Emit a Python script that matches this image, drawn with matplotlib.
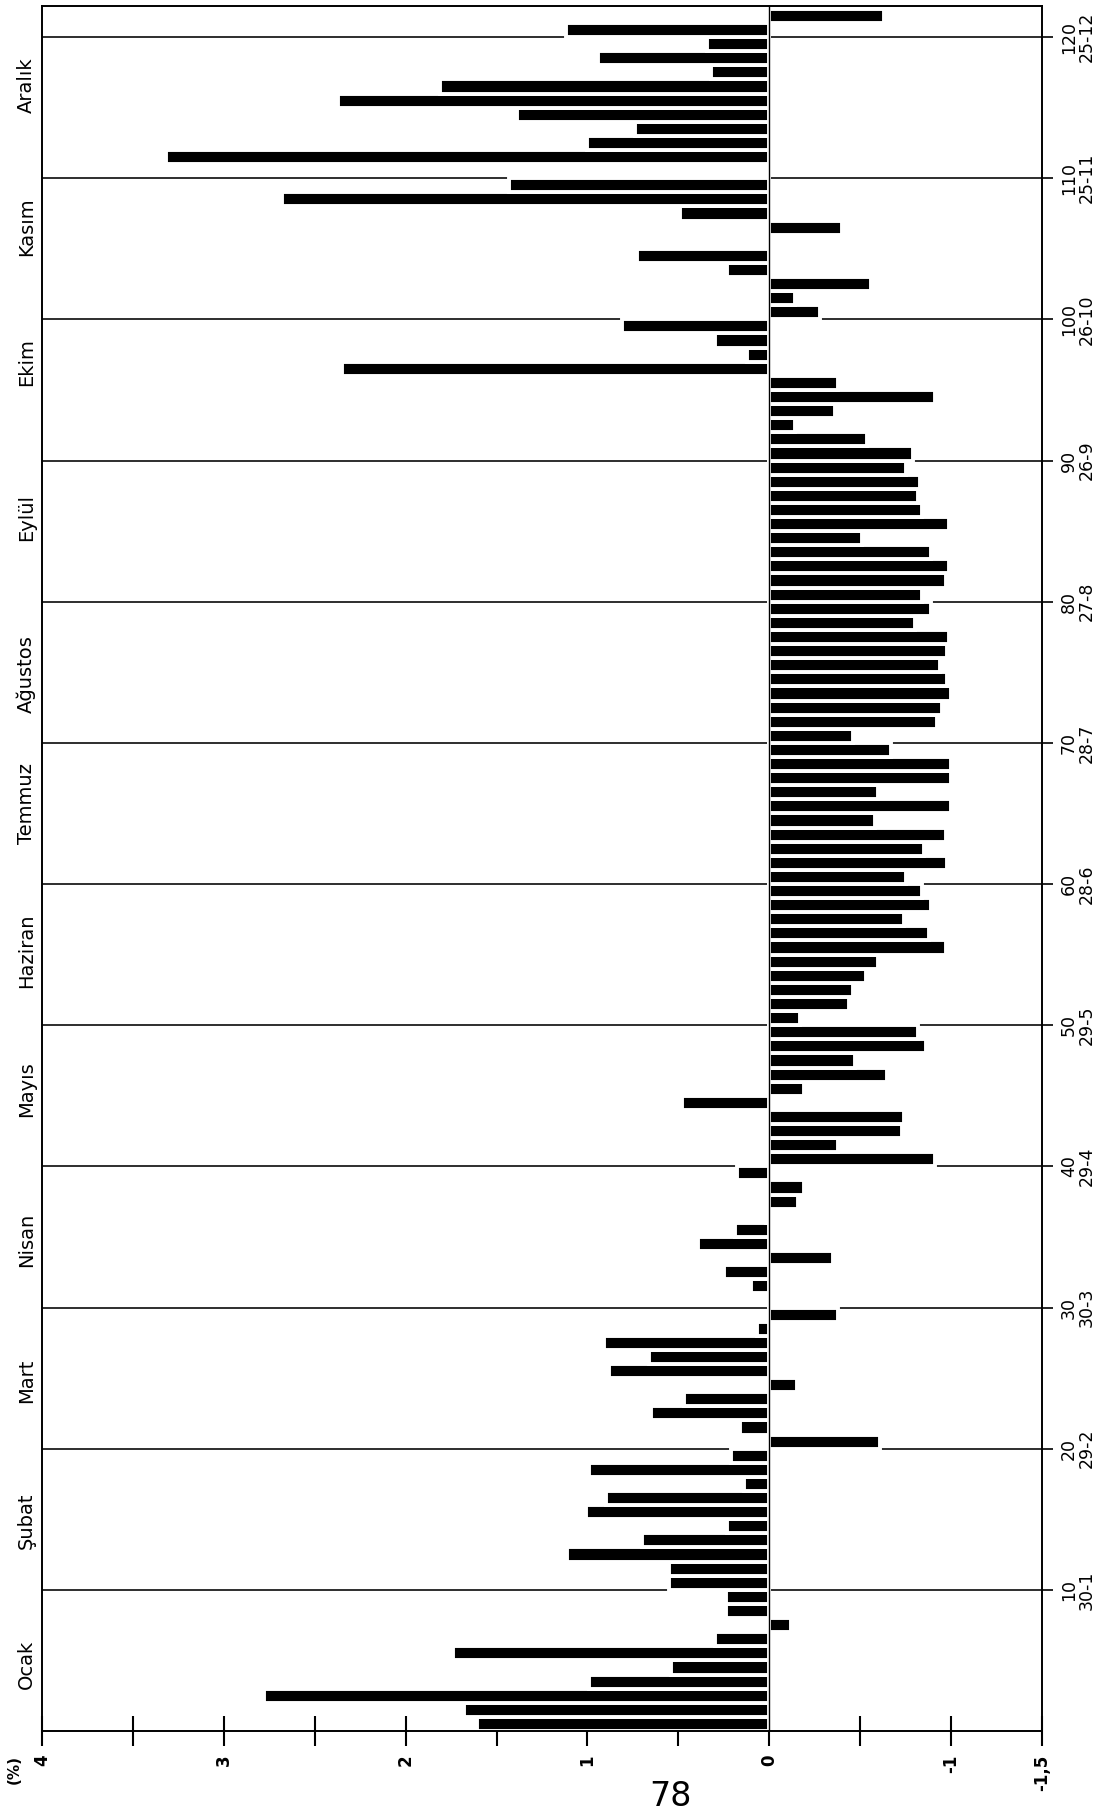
import numpy as np
import matplotlib
matplotlib.use('Agg')
import matplotlib.pyplot as plt
import matplotlib.transforms as mtransforms

# ---- data: 3-day periods of the year (1..122) and % change ----
periods = list(range(1, 123))
change = [
    1.61, 1.68, 2.78, 0.99, 0.54, 1.74, 0.30, -0.12, 0.24, 0.24,      # 1-10
    0.55, 0.55, 1.11, 0.70, 0.23, 1.01, 0.90, 0.14, 0.99, 0.21,       # 11-20
    -0.61, 0.16, 0.65, 0.47, -0.15, 0.88, 0.66, 0.91, 0.07, -0.38,    # 21-30
    0.00, 0.10, 0.25, -0.35, 0.39, 0.19, 0.02, -0.16, -0.19, 0.18,    # 31-40
    -0.91, -0.38, -0.73, -0.74, 0.48, -0.19, -0.65, -0.47, -0.86, -0.82,  # 41-50
    -0.17, -0.44, -0.46, -0.53, -0.60, -0.97, -0.88, -0.74, -0.89, -0.84,  # 51-60
    -0.75, -0.98, -0.85, -0.97, -0.58, -1.00, -0.60, -1.00, -1.00, -0.67,  # 61-70
    -0.46, -0.92, -0.95, -1.00, -0.98, -0.94, -0.98, -0.99, -0.80, -0.89,  # 71-80
    -0.84, -0.97, -0.99, -0.89, -0.51, -0.99, -0.84, -0.82, -0.83, -0.75,  # 81-90
    -0.79, -0.54, -0.14, -0.36, -0.91, -0.38, 2.35, 0.12, 0.30, 0.81,     # 91-100
    -0.28, -0.14, -0.56, 0.23, 0.73, 0.00, -0.40, 0.49, 2.68, 1.43,       # 101-110
    0.00, 3.32, 1.00, 0.74, 1.39, 2.37, 1.81, 0.32, 0.94, 0.34,          # 111-120
    1.12, -0.63,                                                          # 121-122
]

months = ['Ocak', 'Şubat', 'Mart', 'Nisan', 'Mayıs', 'Haziran',
          'Temmuz', 'Ağustos', 'Eylül', 'Ekim', 'Kasım', 'Aralık']
grid_ticks = [10, 20, 30, 40, 50, 60, 70, 80, 90, 100, 110, 120]
grid_dates = ['30-1', '29-2', '30-3', '29-4', '29-5', '28-6',
              '28-7', '27-8', '26-9', '26-10', '25-11', '25-12']
value_ticks = [4, 3.5, 3, 2.5, 2, 1.5, 1, 0.5, 0, -0.5, -1, -1.5]
value_labels = ['4', '', '3', '', '2', '', '1', '', '0', '', '-1', '-1,5']

# layout only (label positions along the period axis)
month_label_pos = [4.7, 14.9, 24.8, 34.8, 45.5, 55.3, 65.7, 74.9, 86, 97, 106.6, 116.6]

plt.rcParams['font.family'] = ['DejaVu Sans']

W, H = 1104, 1813
fig = plt.figure(figsize=(W / 100, H / 100), dpi=100)
fig.patch.set_facecolor('white')
ax = fig.add_axes([42 / W, (H - 1731) / H, 1000 / W, 1725 / H])
ax.set_xlim(4, -1.5)
ax.set_ylim(0, 122.2)

for k in grid_ticks:
    ax.axhline(k, color='black', lw=1.15, zorder=1)

ax.barh(np.array(periods) - 0.5, change, height=1.0, color='black',
        edgecolor='white', linewidth=2.8, zorder=2)
ax.axvline(0, color='black', lw=1.0, zorder=3)

for s in ax.spines.values():
    s.set_linewidth(1.4)

ax.set_xticks(value_ticks)
ax.set_xticklabels(value_labels, rotation=90, fontsize=12, fontweight='bold')
ax.tick_params(axis='x', direction='inout', length=22, width=1.5, pad=6)

ax.set_yticks(grid_ticks)
ax.tick_params(axis='y', left=False, right=True, labelleft=False, labelright=False,
               direction='out', length=8, width=1.2)

trans = mtransforms.blended_transform_factory(ax.transAxes, ax.transData)
for k, d in zip(grid_ticks, grid_dates):
    ax.text(1.036, k, f"{k}\n{d}", transform=trans, rotation=90,
            ha='center', va='center', multialignment='center',
            fontsize=12.5, linespacing=1.0)

for name, pos in zip(months, month_label_pos):
    ax.text(-0.0155, pos, name, transform=trans, rotation=90,
            ha='center', va='center', fontsize=14)

fig.text(14 / W, 1 - 1770 / H, '(%)', rotation=90, ha='center', va='center',
         fontsize=11, fontweight='bold')
fig.text(670 / W, 1 - 1797 / H, '78', ha='center', va='center', fontsize=24)

fig.savefig('out.png', dpi=100, facecolor='white')
